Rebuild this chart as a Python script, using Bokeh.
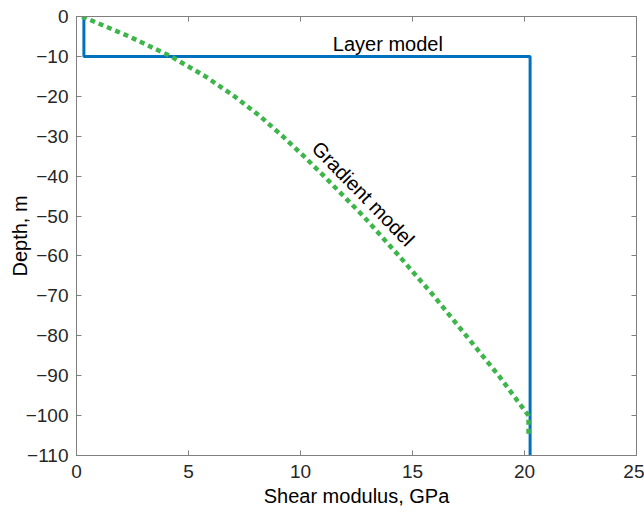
from bokeh.plotting import figure
from bokeh.models import Range1d, FixedTicker, LinearAxis, CustomLabelingPolicy
from bokeh.core.properties import value
from bokeh.embed import file_html
from bokeh.resources import INLINE

# Layer model (shear modulus GPa vs depth m)
layer_g = [0.33, 0.33, 20.25, 20.25]
layer_z = [0, -10, -10, -110]

# Gradient model
grad_z = [0, -5, -10, -15, -20, -25, -30, -35, -40, -50, -60, -70, -80, -90, -100, -105.5]
grad_g = [0.25, 2.35, 4.22, 5.75, 7.05, 8.2, 9.2, 10.15, 11.05, 12.8, 14.4, 15.95, 17.4, 18.85, 20.18, 20.18]

x_ticks = [0, 5, 10, 15, 20, 25]
y_ticks = [-110, -100, -90, -80, -70, -60, -50, -40, -30, -20, -10, 0]

FONT = "Liberation Sans"
AX_COL = "#7f7f7f"
TXT_COL = "#262626"

p = figure(width=644, height=514, output_backend="svg", toolbar_location=None,
           x_range=Range1d(0, 25), y_range=Range1d(-110, 0),
           min_border_left=76, min_border_right=8, min_border_top=16, min_border_bottom=59)
p.grid.visible = False
p.outline_line_color = AX_COL
p.background_fill_color = "white"
p.border_fill_color = "white"

def style(ax, ticks, labels=True):
    ax.ticker = FixedTicker(ticks=ticks)
    ax.axis_line_color = AX_COL
    ax.major_tick_line_color = AX_COL
    ax.major_tick_in = 5
    ax.major_tick_out = 0
    ax.minor_tick_line_color = None
    ax.major_label_text_font = FONT
    ax.major_label_text_color = TXT_COL
    if labels:
        ax.major_label_text_font_size = "19px"
        ax.major_label_overrides = {t: (("\u2212" + str(abs(t))) if t < 0 else str(t)) for t in ticks}
    else:
        ax.major_label_text_font_size = "1px"
        ax.major_label_standoff = 0
        ax.major_label_policy = CustomLabelingPolicy(
            code="for (const i of indices) { if (i < 0) yield i }")
    ax.axis_label_text_font = FONT
    ax.axis_label_text_font_style = "normal"
    ax.axis_label_text_color = "black"
    ax.axis_label_text_font_size = "20px"

style(p.xaxis[0], x_ticks)
style(p.yaxis[0], y_ticks)
p.xaxis[0].axis_label = "Shear modulus, GPa"
p.yaxis[0].axis_label = "Depth, m"
p.xaxis[0].major_label_standoff = 9
p.yaxis[0].major_label_standoff = 8
p.xaxis[0].axis_label_standoff = 4
p.yaxis[0].axis_label_standoff = -8

top = LinearAxis()
right = LinearAxis()
style(top, x_ticks, labels=False)
style(right, y_ticks, labels=False)
p.add_layout(top, "above")
p.add_layout(right, "right")

p.line(layer_g, layer_z, line_color="#0072BD", line_width=3)
p.line(grad_g, grad_z, line_color="#3DB54A", line_width=4.5, line_dash="5 4")

p.text(x=[13.9], y=[-6.8], text=["Layer model"], text_align="center", text_baseline="middle",
       text_font=value(FONT), text_font_size="20px", text_color="black")
p.text(x=[12.8], y=[-44.4], text=["Gradient model"], text_align="center", text_baseline="middle",
       angle=-0.80, text_font=value(FONT), text_font_size="20px", text_color="black")

open("out.html", "w").write(file_html(p, INLINE))
